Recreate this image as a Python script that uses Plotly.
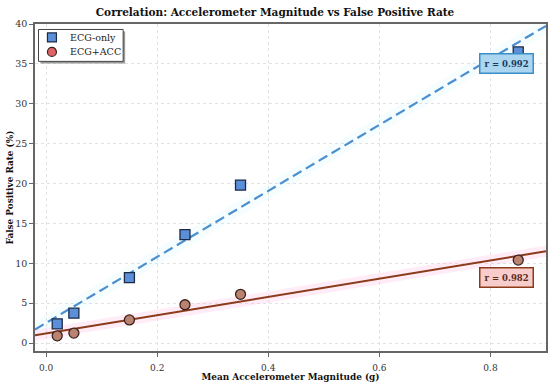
import numpy as np
import plotly.graph_objects as go

accel = [0.02, 0.05, 0.15, 0.25, 0.35, 0.85]
fpr_ecg_only = [2.4, 3.75, 8.2, 13.6, 19.8, 36.5]
fpr_ecg_acc = [0.9, 1.25, 2.9, 4.8, 6.1, 10.4]
r_ecg_only = 0.992
r_ecg_acc = 0.982
series_names = ["ECG-only", "ECG+ACC"]
x_ticks = [0.0, 0.2, 0.4, 0.6, 0.8]
y_ticks = [0, 5, 10, 15, 20, 25, 30, 35, 40]

FONT = "DejaVu Serif"
BLUE = "#4a8fd0"
BLUE_MK = "#5b8fd9"
RED_LINE = "#8b3a1a"
RED_MK = "#b9836f"
RED_LEG = "#e06464"

W, H = 550, 382
ML, MR, MT, MB = 35, 2, 24, 30
PW, PH = W - ML - MR, H - MT - MB


def px(x):
    return (x - ML) / PW


def py(y):
    return (H - MB - y) / PH


xs = np.linspace(-0.02, 0.9, 100)
b1 = np.polyfit(accel, fpr_ecg_only, 1)
b2 = np.polyfit(accel, fpr_ecg_acc, 1)
y1 = np.polyval(b1, xs)
y2 = np.polyval(b2, xs)

fig = go.Figure()

fig.add_trace(go.Scatter(x=np.concatenate([xs, xs[::-1]]),
                         y=np.concatenate([y1 + 1.0, (y1 - 1.0)[::-1]]),
                         fill="toself", fillcolor="rgba(170,235,245,0.10)",
                         line=dict(width=0), showlegend=False, hoverinfo="skip"))
fig.add_trace(go.Scatter(x=np.concatenate([xs, xs[::-1]]),
                         y=np.concatenate([y2 + 0.7, (y2 - 0.7)[::-1]]),
                         fill="toself", fillcolor="rgba(255,180,225,0.25)",
                         line=dict(width=0), showlegend=False, hoverinfo="skip"))

fig.add_trace(go.Scatter(x=xs, y=y1, mode="lines",
                         line=dict(color=BLUE, width=2.2, dash="10px,5px"),
                         showlegend=False, hoverinfo="skip"))
fig.add_trace(go.Scatter(x=xs, y=y2, mode="lines",
                         line=dict(color=RED_LINE, width=2),
                         showlegend=False, hoverinfo="skip"))

fig.add_trace(go.Scatter(x=accel, y=fpr_ecg_only, mode="markers", name=series_names[0],
                         marker=dict(symbol="square", size=10, color=BLUE_MK,
                                     line=dict(color="#1c2b45", width=1.3)),
                         showlegend=False))
fig.add_trace(go.Scatter(x=accel, y=fpr_ecg_acc, mode="markers", name=series_names[1],
                         marker=dict(symbol="circle", size=10, color=RED_MK,
                                     line=dict(color="#3a2020", width=1.3)),
                         showlegend=False))

fig.add_annotation(x=0.828, y=35.1, text=f"<b>r = {r_ecg_only:.3f}</b>", showarrow=False,
                   font=dict(family=FONT, size=8.5, color="#1a3a5c"),
                   bgcolor="#acd6f0", bordercolor="#3a8fc8", borderwidth=1.5,
                   borderpad=4)
fig.add_annotation(x=0.828, y=8.2, text=f"<b>r = {r_ecg_acc:.3f}</b>", showarrow=False,
                   font=dict(family=FONT, size=8.5, color="#5a2a1a"),
                   bgcolor="#f9cccc", bordercolor="#8b3a1a", borderwidth=1.5,
                   borderpad=4)

# manual legend (compact, with shadow)
fig.add_shape(type="rect", xref="paper", yref="paper",
              x0=px(40.5), x1=px(125.5), y0=py(63.5), y1=py(31.5),
              fillcolor="#9a9a9a", line=dict(width=0), layer="above")
fig.add_shape(type="rect", xref="paper", yref="paper",
              x0=px(38.5), x1=px(123.5), y0=py(61.5), y1=py(29.5),
              fillcolor="white", line=dict(color="#444", width=1), layer="above")
fig.add_shape(type="rect", xref="paper", yref="paper",
              x0=px(47.5), x1=px(56.5), y0=py(42), y1=py(33),
              fillcolor=BLUE_MK, line=dict(color="#1c2b45", width=1.2), layer="above")
fig.add_shape(type="circle", xref="paper", yref="paper",
              x0=px(47.5), x1=px(56.5), y0=py(56.5), y1=py(47.5),
              fillcolor=RED_LEG, line=dict(color="#3a2020", width=1.2), layer="above")
for name, yy in zip(series_names, [37.5, 52]):
    fig.add_annotation(xref="paper", yref="paper", x=px(68), y=py(yy),
                       text=name, showarrow=False, xanchor="left", yanchor="middle",
                       font=dict(family=FONT, size=9.5, color="#222"))

fig.update_layout(
    width=W, height=H,
    margin=dict(l=ML, r=MR, t=MT, b=MB),
    paper_bgcolor="white", plot_bgcolor="white",
    font=dict(family=FONT, size=9, color="#333"),
    title=dict(text="<b>Correlation: Accelerometer Magnitude vs False Positive Rate</b>",
               x=0.5, xanchor="center", y=0.978, yanchor="top",
               font=dict(family=FONT, size=10.5, color="#111")),
    showlegend=False,
)
fig.update_xaxes(range=[-0.02, 0.9], tickvals=x_ticks,
                 ticktext=[f"{v:.1f}" for v in x_ticks],
                 showgrid=True, gridcolor="#e2e2e2", griddash="dot", gridwidth=1,
                 zeroline=False, showline=True, linecolor="#666", linewidth=1.5,
                 mirror=True, ticks="outside", ticklen=4, tickcolor="#666",
                 ticklabelstandoff=3,
                 title=dict(text="<b>Mean Accelerometer Magnitude (g)</b>",
                            font=dict(family=FONT, size=8.9, color="#111"), standoff=1),
                 tickfont=dict(family=FONT, size=9, color="#333"))
fig.update_yaxes(range=[-1, 40], tickvals=y_ticks,
                 showgrid=True, gridcolor="#e2e2e2", griddash="dot", gridwidth=1,
                 zeroline=False, showline=True, linecolor="#666", linewidth=1.5,
                 mirror=True, ticks="outside", ticklen=4, tickcolor="#666",
                 title=dict(text="<b>False Positive Rate (%)</b>",
                            font=dict(family=FONT, size=8.9, color="#111"), standoff=0),
                 tickfont=dict(family=FONT, size=9.5, color="#333"))

fig.write_html("out.html", config={"displayModeBar": False},
               post_script="document.body.style.margin='0';document.body.style.padding='0';")
